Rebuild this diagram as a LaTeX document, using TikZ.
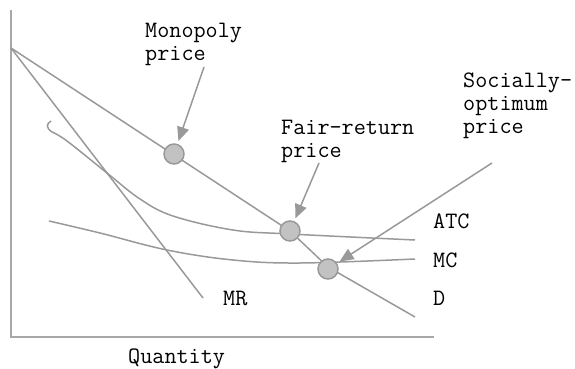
\documentclass[tikz,border=0pt]{standalone}
\usepackage{fontspec}
\usetikzlibrary{arrows.meta,positioning}
\definecolor{curvegray}{gray}{0.6}
\definecolor{axisgray}{gray}{0.66}
\definecolor{dotgray}{gray}{0.76}
\begin{document}
\begin{tikzpicture}[x=1pt,y=-1pt,
    curve/.style={draw=curvegray, line width=1.5pt},
    axisline/.style={draw=axisgray, line width=2pt},
    pricedot/.style={circle, fill=dotgray, draw=curvegray, line width=1.5pt, minimum size=20pt, inner sep=0pt},
    pointer/.style={draw=curvegray, fill=curvegray, line width=1.5pt, -{Triangle[length=14pt,width=12pt]}, shorten >=3pt},
    lbl/.style={font=\ttfamily\fontsize{23.5}{23}\selectfont, inner sep=0pt, anchor=base west, align=left}]
  \useasboundingbox (0,0) rectangle (575,369);
  % axes
  \draw[axisline] (11,10) -- (11,337) -- (434,337);
  \node[lbl] (quantity) at (128,363) {Quantity};
  % MR
  \draw[curve] (11,48) -- (203,298);
  \node[lbl] (mr) at (223,305) {MR};
  % ATC
  \draw[curve] (51,121) .. controls (46,124) and (46,128) .. (52,132)
    plot[smooth, tension=0.6] coordinates {(52,132) (67,141) (107,173) (140,199) (173,216) (233,230) (290,234) (415,240)};
  \node[lbl] (atc) at (433,228) {ATC};
  % MC
  \draw[curve] plot[smooth, tension=0.6] coordinates {(49,221) (100,233) (167,250) (233,260) (300,263) (415,259)};
  \node[lbl] (mc) at (433,267) {MC};
  % D
  \draw[curve] (11,48) -- (290,231) -- (328,267) -- (415,317);
  \node[lbl] (d) at (433,305) {D};
  % price points
  \node[pricedot] (mdot) at (174,154) {};
  \node[pricedot] (fdot) at (290,231) {};
  \node[pricedot] (sdot) at (328,269) {};
  % labels (base = last line)
  \node[lbl] (monopoly) at (145,60) {Monopoly\\price};
  \node[lbl] (fair) at (281,157) {Fair-return\\price};
  \node[lbl] (social) at (463,133) {Socially-\\optimum\\price};
  \coordinate (mtail) at (204,67);
  \coordinate (ftail) at (319,163);
  \coordinate (stail) at (492,163);
  \draw[pointer] (mtail) -- (mdot);
  \draw[pointer] (ftail) -- (fdot);
  \draw[pointer] (stail) -- (sdot);
\end{tikzpicture}
\end{document}
